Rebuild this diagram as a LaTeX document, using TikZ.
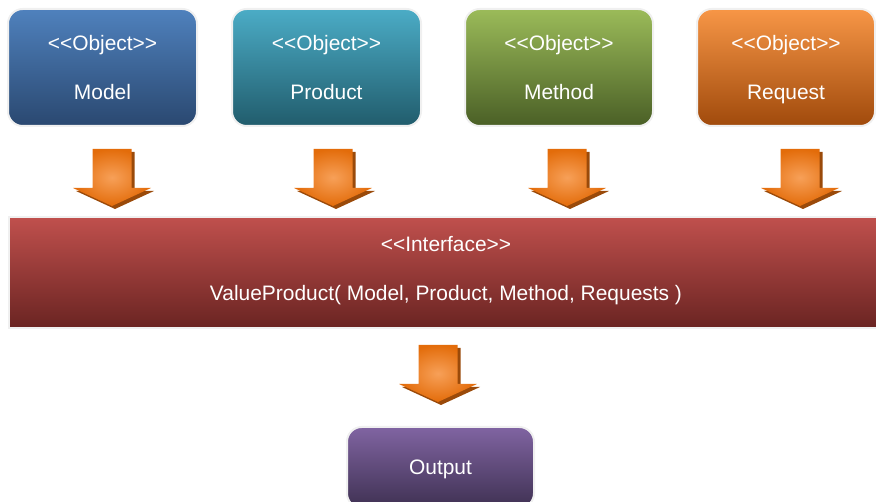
\documentclass[tikz,border=0pt]{standalone}
\usepackage{fontspec}
\setmainfont{Liberation Sans}[Ligatures=TeXOff]
\usetikzlibrary{positioning, calc}

\definecolor{mdlA}{HTML}{4F81BD}
\definecolor{mdlB}{HTML}{2A4870}
\definecolor{prdA}{HTML}{4BACC6}
\definecolor{prdB}{HTML}{215C6C}
\definecolor{mthA}{HTML}{9BBB59}
\definecolor{mthB}{HTML}{4A5F26}
\definecolor{reqA}{HTML}{F79646}
\definecolor{reqB}{HTML}{A04A0C}
\definecolor{ifcA}{HTML}{C0504D}
\definecolor{ifcB}{HTML}{6A2422}
\definecolor{outA}{HTML}{8064A2}
\definecolor{outB}{HTML}{3F3152}
\definecolor{arrlight}{HTML}{F7A058}
\definecolor{arrdark}{HTML}{E36C0A}
\definecolor{arrshadow}{HTML}{9A4A0A}

\tikzset{
  box/.style={rounded corners=11pt, draw=gray!12, line width=1.5pt, text=white,
    align=center, text depth=0pt, font=\fontsize{15.7}{36.75}\selectfont, shading angle=45},
  objbox/.style={box, minimum width=141.75pt, minimum height=87.75pt},
  downarr/.pic={
    \fill[arrshadow] (-16.5,3) -- (22.5,3) -- (22.5,42) -- (42,42) -- (3,60)
      -- (-36,42) -- (-16.5,42) -- cycle;
    \shade[inner color=arrlight, outer color=arrdark] (-19.5,0) -- (19.5,0)
      -- (19.5,39) -- (39,39) -- (0,57) -- (-39,39) -- (-19.5,39) -- cycle;
  }
}

\begin{document}
\begin{tikzpicture}[x=0.75pt, y=-0.75pt]
  \useasboundingbox (0,0) rectangle (876,502);

  % objects
  \node[objbox, top color=mdlA, bottom color=mdlB] (model) at (102.5,67.5) {<<Object>>\\Model};
  \node[objbox, top color=prdA, bottom color=prdB] (product) at (326.5,67.5) {<<Object>>\\Product};
  \node[objbox, minimum width=141pt, top color=mthA, bottom color=mthB] (method) at (559,67.5) {<<Object>>\\Method};
  \node[objbox, minimum width=133.5pt, top color=reqA, bottom color=reqB] (request) at (786,67.5) {<<Object>>\\Request};

  % interface
  \node[box, rounded corners=0pt, minimum width=655.5pt, minimum height=83.25pt, text depth=6pt,
    shading angle=15, top color=ifcA, bottom color=ifcB] (iface) at (446,272.5)
    {<<Interface>>\\ValueProduct( Model, Product, Method, Requests )};

  % output
  \node[box, minimum width=140.25pt, minimum height=60.75pt, top color=outA, bottom color=outB]
    (output) at (440.5,467.5) {Output};

  \foreach \ax in {112,333,567,800}
    \pic at (\ax,149) {downarr};
  \pic at (438,345) {downarr};
\end{tikzpicture}
\end{document}
